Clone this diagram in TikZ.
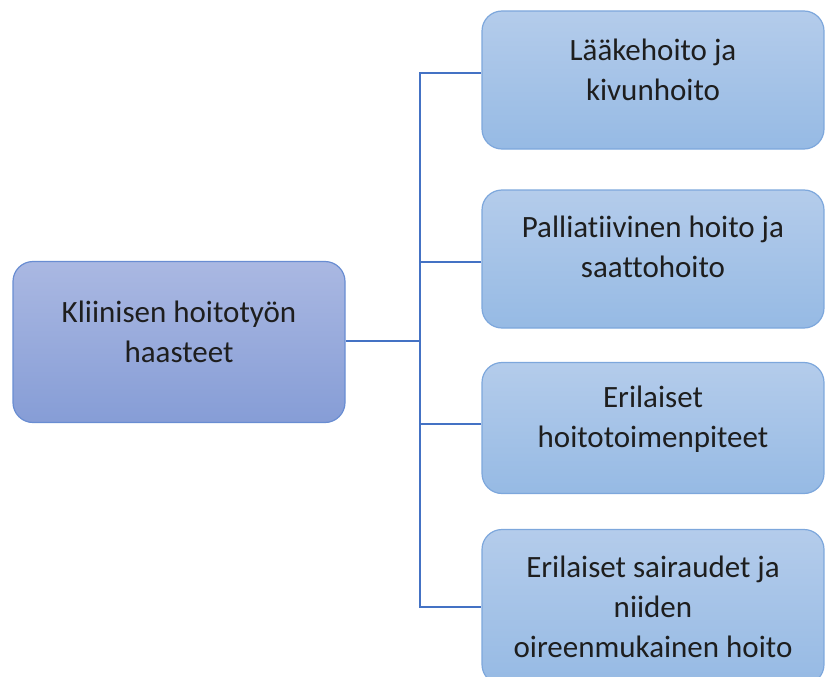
\documentclass[tikz,border=0pt]{standalone}
\usepackage{fontspec}
\setmainfont[Ligatures=NoCommon]{Carlito}
\definecolor{rootdark}{RGB}{134,157,214}
\definecolor{rootlight}{RGB}{170,184,226}
\definecolor{itemdark}{RGB}{150,186,228}
\definecolor{itemlight}{RGB}{180,204,235}
\definecolor{rootedge}{RGB}{105,141,210}
\definecolor{itemedge}{RGB}{125,167,220}
\definecolor{linkblue}{RGB}{68,114,196}
\definecolor{textgray}{RGB}{30,30,30}
\usetikzlibrary{calc}
\tikzstyle{box}=[rectangle,rounded corners=20pt,line width=1.2pt,inner sep=0pt]
\tikzstyle{rootbox}=[box,draw=rootedge,top color=rootlight,bottom color=rootdark,
  minimum width=332pt,minimum height=161pt]
\tikzstyle{itembox}=[box,draw=itemedge,top color=itemlight,bottom color=itemdark,
  minimum width=342pt]
\tikzstyle{boxtext}=[align=center,inner sep=0pt,text=textgray,
  font=\fontsize{31}{40}\selectfont]
\tikzstyle{link}=[draw=linkblue,line width=1.2pt]

\begin{document}
\begin{tikzpicture}[x=1pt,y=-1pt]
\useasboundingbox (0,0) rectangle (825,677);
% root
\node [rootbox] (root) at (179,342) {};
\node [boxtext] (roottext) at (179,332) {Kliinisen hoitotyön\\haasteet};
% items
\node [itembox,minimum height=138pt] (b1) at (653,80) {};
\node [itembox,minimum height=138pt] (b2) at (653,259) {};
\node [itembox,minimum height=131pt] (b3) at (653,428) {};
\node [itembox,minimum height=155pt] (b4) at (653,607) {};
\node [boxtext] (t1) at (653,70) {Lääkehoito ja\\kivunhoito};
\node [boxtext] (t2) at (653,247) {Palliatiivinen hoito ja\\saattohoito};
\node [boxtext] (t3) at (653,419) {Erilaiset\\hoitotoimenpiteet};
\node [boxtext] (t4) at (653,607) {Erilaiset sairaudet ja\\niiden\\oireenmukainen hoito};
% connectors
\coordinate (trunk) at (420,341);
\draw [link] (root.east |- trunk) -- (trunk);
\draw [link] ([yshift=7pt]b1.west) -| (trunk) |- (b4.west);
\draw [link] ([yshift=-3pt]b2.west) -- ([yshift=-3pt]b2.west -| trunk);
\draw [link] ([yshift=4pt]b3.west) -- ([yshift=4pt]b3.west -| trunk);
\end{tikzpicture}
\end{document}
